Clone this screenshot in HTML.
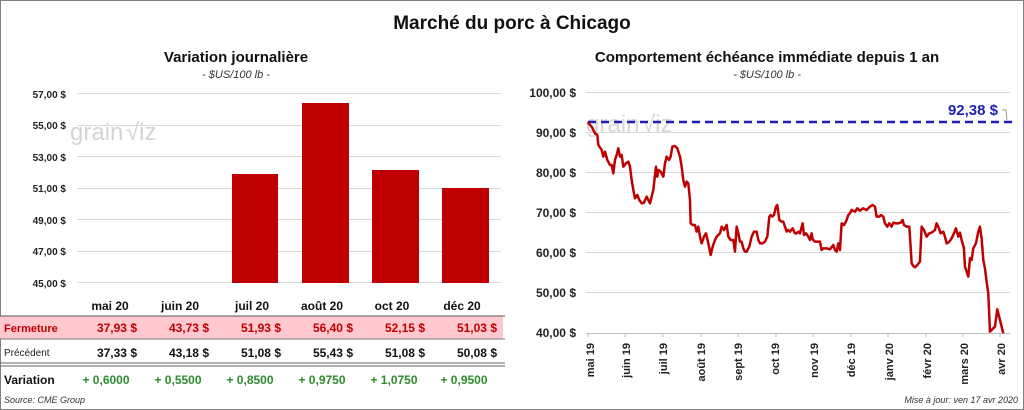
<!DOCTYPE html>
<html><head><meta charset="utf-8"><style>
body{margin:0;background:#fff;}
svg{display:block;font-family:"Liberation Sans",sans-serif;}
</style></head><body>
<svg width="1024" height="410" viewBox="0 0 1024 410" xmlns="http://www.w3.org/2000/svg">
<rect x="0.5" y="0.5" width="1023" height="409" fill="#fff" stroke="#808080"/>
<text x="512" y="29" text-anchor="middle" font-size="19" font-weight="bold" fill="#111">Marché du porc à Chicago</text>
<!-- left -->
<text x="236" y="62" text-anchor="middle" font-size="15" font-weight="bold" fill="#111">Variation  journalière</text>
<text x="236" y="78" text-anchor="middle" font-size="11" font-style="italic" fill="#333">- $US/100 lb -</text>
<g stroke="#d9d9d9" stroke-width="1">
<line x1="77" x2="501" y1="93.5" y2="93.5"/><line x1="77" x2="501" y1="125.5" y2="125.5"/>
<line x1="77" x2="501" y1="156.5" y2="156.5"/><line x1="77" x2="501" y1="188.5" y2="188.5"/>
<line x1="77" x2="501" y1="219.5" y2="219.5"/><line x1="77" x2="501" y1="251.5" y2="251.5"/>
<line x1="77" x2="501" y1="282.5" y2="282.5"/></g>
<g font-size="10" font-weight="bold" fill="#222" text-anchor="end">
<text x="66" y="98">57,00 $</text><text x="66" y="129">55,00 $</text><text x="66" y="161">53,00 $</text>
<text x="66" y="192">51,00 $</text><text x="66" y="224">49,00 $</text><text x="66" y="255">47,00 $</text><text x="66" y="287">45,00 $</text></g>
<text x="70" y="140" font-size="24" fill="#d4d4d4">grain</text><text x="126" y="140" font-size="24" fill="#d4d4d4">√iz</text>
<g fill="#c00000">
<rect x="232" y="174" width="46" height="109"/><rect x="302" y="103" width="47" height="180"/>
<rect x="372" y="170" width="47" height="113"/><rect x="442" y="188" width="47" height="95"/></g>
<g font-size="12" font-weight="bold" fill="#111" text-anchor="middle">
<text x="110" y="310">mai 20</text><text x="180" y="310">juin 20</text><text x="252" y="310">juil 20</text>
<text x="322" y="310">août 20</text><text x="392" y="310">oct 20</text><text x="462" y="310">déc 20</text></g>
<line x1="0" x2="505" y1="316" y2="316" stroke="#555"/>
<rect x="0" y="316.5" width="503" height="22" fill="#ffc7ce"/>
<line x1="0" x2="505" y1="339" y2="339" stroke="#777"/>
<text x="4" y="332" font-size="11" font-weight="bold" fill="#c00000">Fermeture</text>
<g font-size="12" font-weight="bold" fill="#c00000" text-anchor="end">
<text x="137" y="332">37,93  $</text><text x="209" y="332">43,73  $</text><text x="281" y="332">51,93  $</text>
<text x="353" y="332">56,40  $</text><text x="425" y="332">52,15  $</text><text x="497" y="332">51,03  $</text></g>
<text x="4" y="356" font-size="10" fill="#222">Précédent</text>
<g font-size="12" font-weight="bold" fill="#111" text-anchor="end">
<text x="137" y="357">37,33  $</text><text x="209" y="357">43,18  $</text><text x="281" y="357">51,08  $</text>
<text x="353" y="357">55,43  $</text><text x="425" y="357">51,08  $</text><text x="497" y="357">50,08  $</text></g>
<line x1="0" x2="505" y1="363" y2="363" stroke="#666"/><line x1="0" x2="505" y1="366" y2="366" stroke="#666"/>
<text x="4" y="384" font-size="12" font-weight="bold" fill="#111">Variation</text>
<g font-size="12" font-weight="bold" fill="#2e8b2e" text-anchor="middle">
<text x="106" y="384">+ 0,6000</text><text x="178" y="384">+ 0,5500</text><text x="250" y="384">+ 0,8500</text>
<text x="322" y="384">+ 0,9750</text><text x="394" y="384">+ 1,0750</text><text x="464" y="384">+ 0,9500</text></g>
<text x="4" y="403" font-size="9" font-style="italic" fill="#333">Source: CME Group</text>
<!-- right -->
<text x="767" y="62" text-anchor="middle" font-size="15" font-weight="bold" fill="#111">Comportement  échéance immédiate depuis 1 an</text>
<text x="767" y="78" text-anchor="middle" font-size="11" font-style="italic" fill="#333">- $US/100 lb -</text>
<g stroke="#d9d9d9" stroke-width="1">
<line x1="586" x2="1010" y1="92.5" y2="92.5"/><line x1="586" x2="1010" y1="132.5" y2="132.5"/>
<line x1="586" x2="1010" y1="172.5" y2="172.5"/><line x1="586" x2="1010" y1="212.5" y2="212.5"/>
<line x1="586" x2="1010" y1="252.5" y2="252.5"/><line x1="586" x2="1010" y1="292.5" y2="292.5"/></g>
<line x1="586" x2="1010" y1="333.5" y2="333.5" stroke="#bfbfbf"/>
<g stroke="#bfbfbf"><line x1="588" x2="588" y1="333" y2="337"/><line x1="625" x2="625" y1="333" y2="337"/><line x1="663" x2="663" y1="333" y2="337"/><line x1="701" x2="701" y1="333" y2="337"/><line x1="738" x2="738" y1="333" y2="337"/><line x1="776" x2="776" y1="333" y2="337"/><line x1="813" x2="813" y1="333" y2="337"/><line x1="851" x2="851" y1="333" y2="337"/><line x1="888" x2="888" y1="333" y2="337"/><line x1="926" x2="926" y1="333" y2="337"/><line x1="963" x2="963" y1="333" y2="337"/><line x1="1000" x2="1000" y1="333" y2="337"/></g>
<g font-size="12" font-weight="bold" fill="#222" text-anchor="end">
<text x="576" y="97">100,00 $</text><text x="576" y="137">90,00 $</text><text x="576" y="177">80,00 $</text>
<text x="576" y="217">70,00 $</text><text x="576" y="257">60,00 $</text><text x="576" y="297">50,00 $</text><text x="576" y="337">40,00 $</text></g>
<text x="586" y="132" font-size="24" fill="#d8d8d8">grain</text><text x="642" y="132" font-size="24" fill="#d8d8d8">√iz</text>
<g font-size="11" font-weight="bold" fill="#222" text-anchor="end">
<text transform="translate(594,343) rotate(-90)">mai 19</text><text transform="translate(630,343) rotate(-90)">juin 19</text>
<text transform="translate(667,343) rotate(-90)">juil 19</text><text transform="translate(705,343) rotate(-90)">août 19</text>
<text transform="translate(742,343) rotate(-90)">sept 19</text><text transform="translate(779,343) rotate(-90)">oct 19</text>
<text transform="translate(818,343) rotate(-90)">nov 19</text><text transform="translate(855,343) rotate(-90)">déc 19</text>
<text transform="translate(893,343) rotate(-90)">janv 20</text><text transform="translate(931,343) rotate(-90)">févr 20</text>
<text transform="translate(968,343) rotate(-90)">mars 20</text><text transform="translate(1005,343) rotate(-90)">avr 20</text></g>
<line x1="588" x2="1012" y1="122" y2="122" stroke="#1f1fb4" stroke-width="2.5" stroke-dasharray="8,5"/>
<text x="998" y="115" text-anchor="end" font-size="15" font-weight="bold" fill="#1f1fb4">92,38 $</text>
<polyline points="1002,110 1006,110 1007,120" fill="none" stroke="#999"/>
<g transform="translate(520,80) scale(0.3333)">
<polyline fill="none" stroke="#c00000" stroke-width="7.5" stroke-linejoin="round" points="203,127 215,140 225,160 232,165 235,195 245,210 250,230 255,215 262,240 270,255 275,255 280,280 285,240 290,225 295,205 300,230 305,225 310,260 318,250 325,245 330,260 335,300 340,330 345,355 352,345 358,360 365,370 372,368 380,350 385,360 390,370 400,330 408,260 412,290 415,270 422,275 430,290 435,250 440,230 447,240 452,230 457,200 465,198 472,205 480,230 485,260 490,300 495,320 500,305 505,310 510,360 512,430 518,435 525,435 530,455 535,440 540,470 545,490 552,470 558,460 565,490 572,525 578,500 585,480 590,470 595,465 600,460 605,440 612,450 620,435 625,470 632,480 640,480 645,515 650,440 655,460 660,485 665,485 670,505 675,515 680,515 688,500 695,470 702,455 710,455 715,480 720,490 728,490 735,485 742,470 748,410 752,405 757,410 762,405 768,380 772,375 778,420 785,425 790,425 795,440 800,455 805,450 810,455 818,445 825,460 830,460 835,455 840,460 848,430 852,465 858,460 865,470 870,480 875,460 878,478 885,485 892,485 900,485 905,510 910,505 920,505 930,508 940,495 945,510 950,515 955,490 960,510 965,430 972,435 978,425 985,405 990,400 995,390 1005,395 1012,385 1020,392 1030,385 1040,390 1050,380 1058,375 1065,380 1070,410 1078,410 1083,405 1090,410 1095,430 1102,440 1108,430 1115,440 1120,428 1128,430 1135,430 1142,428 1148,420 1152,435 1160,440 1168,440 1172,500 1175,550 1180,558 1185,562 1192,555 1200,545 1205,440 1212,450 1220,470 1228,460 1235,458 1245,450 1250,430 1255,440 1262,460 1270,455 1275,470 1280,490 1285,488 1292,480 1300,465 1308,445 1315,470 1320,458 1325,480 1332,505 1335,560 1340,575 1345,590 1350,535 1355,540 1360,505 1368,490 1375,455 1380,440 1385,475 1390,540 1395,565 1400,605 1405,640 1410,755 1420,745 1425,740 1432,688 1440,720 1450,760"/>
</g>
<text x="1018" y="403" text-anchor="end" font-size="9" font-style="italic" fill="#333">Mise à jour: ven 17 avr 2020</text>
</svg>
</body></html>
